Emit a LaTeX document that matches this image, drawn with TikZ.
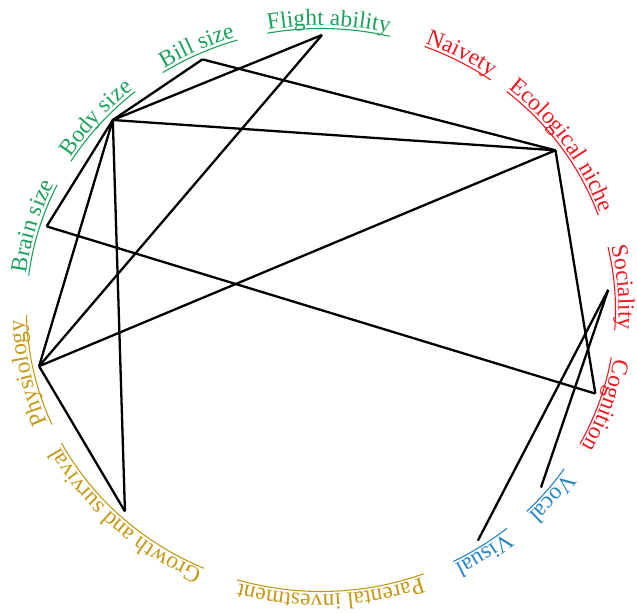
\documentclass[tikz,border=0pt]{standalone}
\usepackage{fontspec}
\setmainfont{Liberation Serif}
\usetikzlibrary{decorations.text}
\definecolor{morphgreen}{rgb}{0.11,0.63,0.36}
\definecolor{behavred}{rgb}{0.93,0.10,0.13}
\definecolor{lifegold}{rgb}{0.77,0.60,0.09}
\definecolor{signalblue}{rgb}{0.15,0.52,0.78}

\newcommand{\traitfont}{\fontsize{23.5}{28}\selectfont}
% #1 name, #2 text angle, #3 half span of underline, #4 angle of end point, #5 colour, #6 text
\newcommand{\traitlabel}[6]{%
  \path[decorate,decoration={text along path,text align=center,text={|\traitfont\color{#5}|#6}}]
    ({#2+30}:297.5 and 284.5) arc[start angle={#2+30},end angle={#2-30},x radius=297.5,y radius=284.5];
  \draw[#5,line width=1.1bp] ({#2+#3}:294.5 and 281.5)
    arc[start angle={#2+#3},end angle={#2-#3},x radius=294.5,y radius=281.5];
  \coordinate (#1) at (#4:288 and 275);
}

\begin{document}
\begin{tikzpicture}[x=1bp,y=1bp,traitlink/.style={line width=2.3bp,line join=miter}]

  \useasboundingbox (-321,-303) rectangle (316,310);

  % --- morphology (green) ---
  \traitlabel{flight}{88.5}{12}{89.8}{morphgreen}{Flight ability}
  \traitlabel{bill}{114.5}{8}{114.3}{morphgreen}{Bill size}
  \traitlabel{body}{138.6}{9.5}{136.3}{morphgreen}{Body size}
  \traitlabel{brain}{163.3}{9.7}{162.3}{morphgreen}{Brain size}

  % --- behaviour (red) ---
  \traitlabel{naivety}{62.1}{7.3}{62.1}{behavred}{Naivety}
  \traitlabel{eco}{35.3}{15.6}{35.5}{behavred}{Ecological niche}
  \traitlabel{social}{4.4}{8.5}{4.2}{behavred}{Sociality}
  \traitlabel{cogn}{340.9}{9.4}{342.3}{behavred}{Cognition}

  % --- signals (blue) ---
  \traitlabel{vocal}{320}{5.7}{319.8}{signalblue}{Vocal}
  \traitlabel{visual}{302.9}{6.2}{303}{signalblue}{Visual}

  % --- life history (gold) ---
  \traitlabel{parent}{271.9}{18.5}{271.9}{lifegold}{Parental investment}
  \traitlabel{growth}{227.4}{19.2}{227.1}{lifegold}{Growth and survival}
  \traitlabel{physio}{192.5}{11.5}{191.8}{lifegold}{Physiology}

  % --- links ---
  \draw[traitlink] (flight) -- (body);
  \draw[traitlink] (flight) -- (physio);
  \draw[traitlink] (bill) -- (body);
  \draw[traitlink] (bill) -- (eco);
  \draw[traitlink] (body) -- (eco);
  \draw[traitlink] (body) -- (brain);
  \draw[traitlink] (body) -- (physio);
  \draw[traitlink] (body) -- (growth);
  \draw[traitlink] (brain) -- (cogn);
  \draw[traitlink] (physio) -- (eco);
  \draw[traitlink] (physio) -- (growth);
  \draw[traitlink] (eco) -- (cogn);
  \draw[traitlink] (social) -- (visual);
  \draw[traitlink] (social) -- (vocal);

\end{tikzpicture}
\end{document}
